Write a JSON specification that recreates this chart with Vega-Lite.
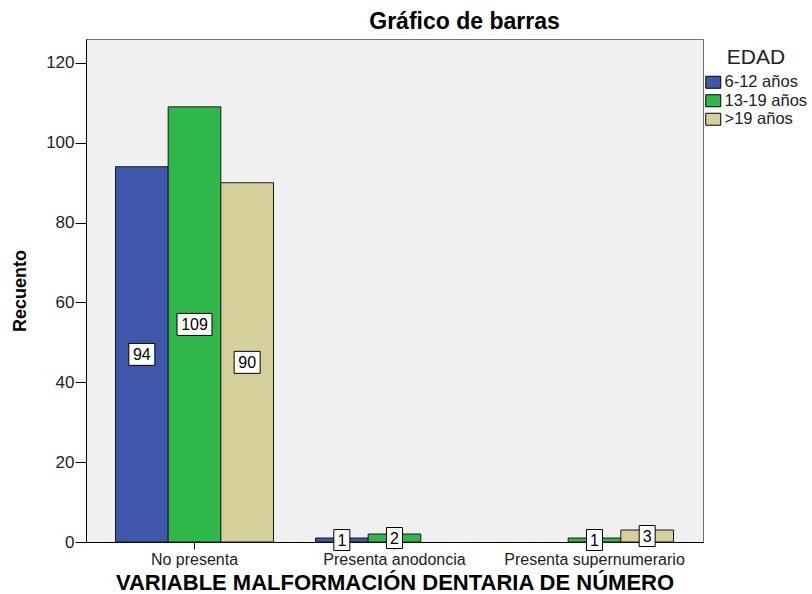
{
  "$schema": "https://vega.github.io/schema/vega-lite/v6.json",
  "width": 617,
  "height": 503,
  "autosize": {"type": "none"},
  "padding": {"left": 86, "top": 39, "right": 109, "bottom": 52},
  "background": "white",
  "title": {"text": "Gráfico de barras", "font": "Liberation Sans", "fontSize": 23, "fontWeight": "bold", "color": "black", "anchor": "middle", "dx": 70, "offset": 5},
  "data": {
    "values": [
      {"malf": "No presenta", "edad": "6-12 años", "n": 94},
      {"malf": "No presenta", "edad": "13-19 años", "n": 109},
      {"malf": "No presenta", "edad": ">19 años", "n": 90},
      {"malf": "Presenta anodoncia", "edad": "6-12 años", "n": 1},
      {"malf": "Presenta anodoncia", "edad": "13-19 años", "n": 2},
      {"malf": "Presenta anodoncia", "edad": ">19 años", "n": 0},
      {"malf": "Presenta supernumerario", "edad": "6-12 años", "n": 0},
      {"malf": "Presenta supernumerario", "edad": "13-19 años", "n": 1},
      {"malf": "Presenta supernumerario", "edad": ">19 años", "n": 3}
    ]
  },
  "encoding": {
    "x": {
      "field": "malf", "type": "nominal",
      "sort": ["No presenta", "Presenta anodoncia", "Presenta supernumerario"],
      "scale": {"paddingInner": 0.21, "paddingOuter": 0.1475},
      "axis": {"title": "VARIABLE MALFORMACIÓN DENTARIA DE NÚMERO", "labelAngle": 0, "labelLimit": 0, "ticks": true, "tickSize": 7, "tickColor": "black", "labelPadding": 2, "labelFontSize": 16, "labelColor": "#222", "titleFontSize": 22, "titleFontWeight": "bold", "titlePadding": 5, "titleColor": "black", "domainColor": "black"}
    },
    "xOffset": {"field": "edad", "type": "nominal", "sort": ["6-12 años", "13-19 años", ">19 años"], "scale": {"paddingInner": 0, "paddingOuter": 0}}
  },
  "layer": [
    {
      "transform": [{"filter": "datum.n > 0"}],
      "mark": {"type": "bar", "stroke": "#1a1a1a", "strokeWidth": 1},
      "encoding": {
        "y": {
          "field": "n", "type": "quantitative",
          "scale": {"domain": [0, 126], "nice": false},
          "axis": {"title": "Recuento", "values": [0, 20, 40, 60, 80, 100, 120], "labelFontSize": 17, "labelColor": "#222", "tickSize": 11, "tickColor": "black", "labelPadding": 1, "domainColor": "black", "titleFontSize": 18, "titleFontWeight": "bold", "titleColor": "black", "titlePadding": 16}
        },
        "color": {
          "field": "edad", "type": "nominal",
          "sort": ["6-12 años", "13-19 años", ">19 años"],
          "scale": {"domain": ["6-12 años", "13-19 años", ">19 años"], "range": ["#3E57AA", "#2EB84A", "#D5D09A"]},
          "legend": {"title": "EDAD", "orient": "none", "legendX": 619, "legendY": 8, "titleFontSize": 21, "titleFontWeight": "normal", "titleColor": "#222", "titleAnchor": "middle", "titlePadding": 6, "symbolType": "M-1,-0.8H1V0.8H-1Z", "symbolSize": 225, "symbolStrokeColor": "black", "symbolStrokeWidth": 1, "labelFontSize": 16.5, "labelColor": "#222", "rowPadding": 1.5, "labelOffset": 3, "symbolOpacity": 1}
        }
      }
    },
    {
      "transform": [{"filter": "datum.n >= 100"}, {"calculate": "datum.n / 2", "as": "mid"}],
      "mark": {"type": "point", "shape": "M-1,-0.629H1V0.629H-1Z", "size": 1225, "filled": true, "fill": "white", "stroke": "black", "strokeWidth": 1, "opacity": 1},
      "encoding": {"y": {"field": "mid", "type": "quantitative"}}
    },
    {
      "transform": [{"filter": "datum.n >= 10 && datum.n < 100"}, {"calculate": "datum.n / 2", "as": "mid"}],
      "mark": {"type": "point", "shape": "M-1,-0.846H1V0.846H-1Z", "size": 676, "filled": true, "fill": "white", "stroke": "black", "strokeWidth": 1, "opacity": 1},
      "encoding": {"y": {"field": "mid", "type": "quantitative"}}
    },
    {
      "transform": [{"filter": "datum.n > 0 && datum.n < 10"}, {"calculate": "datum.n / 2", "as": "mid"}],
      "mark": {"type": "point", "shape": "M-0.762,-1H0.762V1H-0.762Z", "size": 441, "filled": true, "fill": "white", "stroke": "black", "strokeWidth": 1, "opacity": 1},
      "encoding": {"y": {"field": "mid", "type": "quantitative"}}
    },
    {
      "transform": [{"filter": "datum.n > 0"}, {"calculate": "datum.n / 2", "as": "mid"}],
      "mark": {"type": "text", "fontSize": 16, "color": "black", "baseline": "middle", "dy": 1},
      "encoding": {"y": {"field": "mid", "type": "quantitative"}, "text": {"field": "n", "type": "quantitative"}}
    }
  ],
  "config": {
    "font": "Liberation Sans",
    "view": {"fill": "#F0F0F0", "stroke": "#707070", "strokeWidth": 1},
    "axis": {"grid": false, "labelFont": "Liberation Sans", "titleFont": "Liberation Sans"},
    "legend": {"labelFont": "Liberation Sans", "titleFont": "Liberation Sans"},
    "text": {"font": "Liberation Sans"}
  }
}
